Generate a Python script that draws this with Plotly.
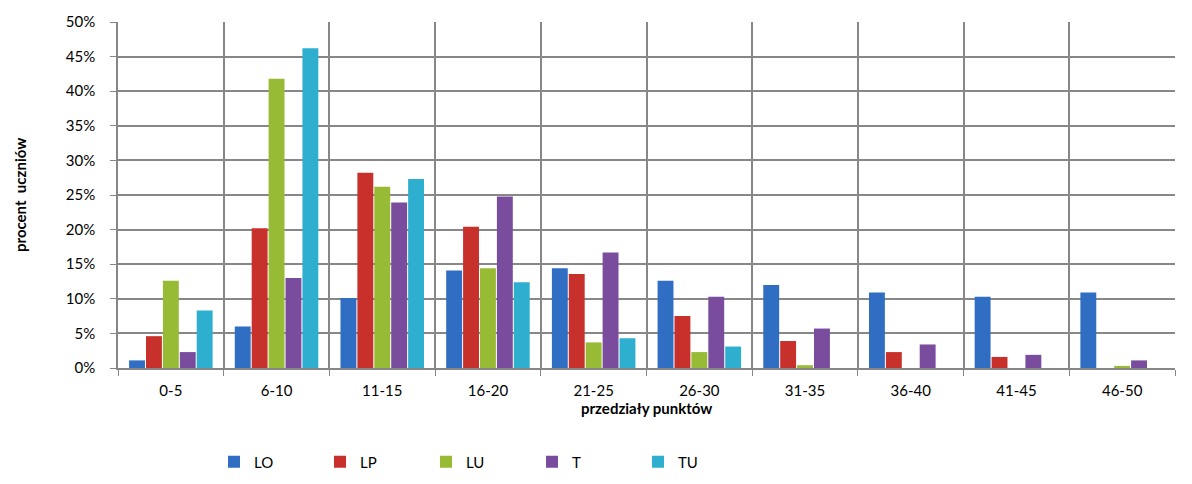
import plotly.graph_objects as go

categories = ["0-5", "6-10", "11-15", "16-20", "21-25", "26-30", "31-35", "36-40", "41-45", "46-50"]
LO = [1.1, 6.0, 10.1, 14.1, 14.4, 12.6, 12.0, 10.9, 10.3, 10.9]
LP = [4.6, 20.2, 28.2, 20.4, 13.6, 7.5, 3.9, 2.3, 1.6, 0.0]
LU = [12.6, 41.8, 26.2, 14.4, 3.7, 2.3, 0.4, 0.0, 0.0, 0.3]
T = [2.3, 13.0, 23.9, 24.8, 16.7, 10.3, 5.7, 3.4, 1.9, 1.1]
TU = [8.3, 46.2, 27.3, 12.4, 4.3, 3.1, 0.0, 0.0, 0.0, 0.0]
y_ticks = [0, 5, 10, 15, 20, 25, 30, 35, 40, 45, 50]
y_ticktext = [f"{v}%" for v in y_ticks]

series = [
    ("LO", LO, "#2f6ec2"),
    ("LP", LP, "#c8302b"),
    ("LU", LU, "#98bb35"),
    ("T", T, "#7a4c9e"),
    ("TU", TU, "#2eafcf"),
]

fig = go.Figure()
for name, vals, col in series:
    fig.add_trace(go.Bar(
        x=categories, y=vals, name=name,
        marker=dict(color=col, line=dict(width=0)),
    ))

# the page places the figure 8px in from the top-left corner
OFF = 8
W, H = 1192, 484
L = 118 - OFF
Tm = 22 - OFF
R = W - (1175 - OFF)
B = H - (368 - OFF)
PW = W - L - R
PH = H - Tm - B


def px_x(page_x):
    return (page_x - OFF - L) / PW


def px_y(page_y):
    return (H - B - (page_y - OFF)) / PH


font = "Lato, 'Open Sans', sans-serif"
fig.update_layout(
    width=W, height=H,
    margin=dict(l=L, r=R, t=Tm, b=B, autoexpand=False),
    paper_bgcolor="white", plot_bgcolor="white",
    barmode="group", bargap=0.2, bargroupgap=0.06,
    font=dict(family=font, size=15, color="#000"),
    showlegend=True,
    legend=dict(orientation="h", x=px_x(214), xanchor="left",
                y=px_y(462), yanchor="middle",
                font=dict(size=15), itemwidth=30, entrywidthmode="pixels", entrywidth=61,
                traceorder="normal"),
    xaxis=dict(
        tickson="boundaries", showgrid=True, gridcolor="#878787", gridwidth=1.6,
        showline=True, linecolor="#878787", linewidth=1.6,
        ticks="outside", tickcolor="#878787", ticklen=6,
        tickfont=dict(size=15), ticklabelstandoff=8, automargin=False,
    ),
    yaxis=dict(
        range=[0, 50], tickvals=y_ticks, ticktext=y_ticktext,
        showgrid=True, gridcolor="#878787", gridwidth=1.6,
        showline=True, linecolor="#878787", linewidth=1.6,
        ticks="outside", tickcolor="#878787", ticklen=6,
        tickfont=dict(size=15), zeroline=False, automargin=False,
        ticklabelstandoff=12,
    ),
    annotations=[
        dict(text="<b>procent  uczniów</b>", xref="paper", yref="paper",
             x=px_x(20), y=px_y(195), xanchor="center", yanchor="middle",
             textangle=-90, showarrow=False, font=dict(size=15)),
        dict(text="<b>przedziały punktów</b>", xref="paper", yref="paper",
             x=px_x(646), y=px_y(408), xanchor="center", yanchor="middle",
             showarrow=False, font=dict(size=15)),
    ],
)

fig.write_html("out.html")
